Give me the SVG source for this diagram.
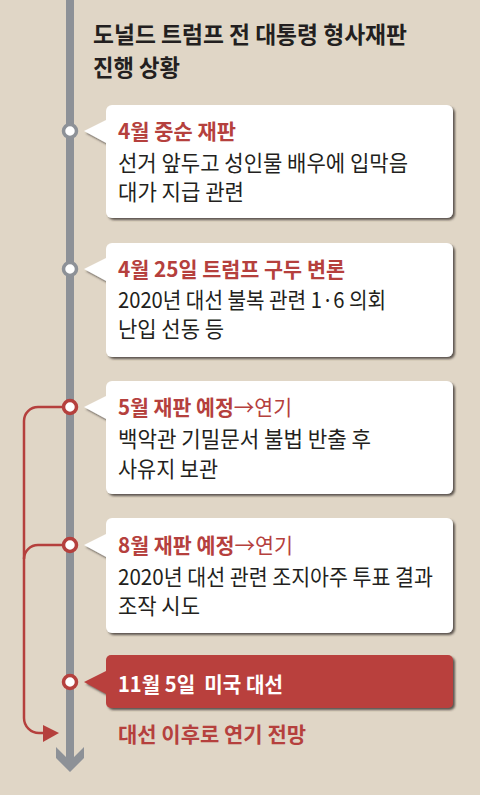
<svg xmlns="http://www.w3.org/2000/svg" width="480" height="795" viewBox="0 0 480 795">
<style>
.h{font-family:"Noto Sans CJK KR","Noto Sans",sans-serif;font-weight:700;font-size:23px;fill:#231f20}
.t{font-family:"Noto Sans CJK KR","Noto Sans",sans-serif;font-weight:700;font-size:21px;fill:#b5403d}
.t2{font-family:"Noto Sans CJK KR","Noto Sans",sans-serif;font-weight:400;font-size:21px;fill:#b5403d}
.b{font-family:"Noto Sans CJK KR","Noto Sans",sans-serif;font-weight:400;font-size:22px;fill:#231f20}
.w{font-family:"Noto Sans CJK KR","Noto Sans",sans-serif;font-weight:700;font-size:21px;fill:#ffffff}
.box{fill:#ffffff}
.rbox{fill:#b9403d}
.gc{fill:#ffffff;stroke:#8d9197;stroke-width:3.5}
.rc{fill:#ffffff;stroke:#b5403d;stroke-width:3.5}
.con{fill:none;stroke:#b5403d;stroke-width:2.5}
</style>
<defs>
<filter id="sh" x="-5%" y="-10%" width="115%" height="130%">
<feDropShadow dx="2" dy="2" stdDeviation="1.1" flood-color="#3a3530" flood-opacity="0.8"/>
</filter>
</defs>
<rect width="480" height="795" fill="#e0d6c6"/>
<g id="timeline">
<rect x="66" y="0" width="8" height="758" fill="#8d9197"/>
<polygon points="56,747 66,757 74,757 84,747 84,758 70,772 56,758" fill="#8d9197"/>
</g>
<g id="title">
<text class="h" x="93" y="43" textLength="314" lengthAdjust="spacingAndGlyphs">도널드 트럼프 전 대통령 형사재판</text>
<text class="h" x="93" y="76" textLength="87" lengthAdjust="spacingAndGlyphs">진행 상황</text>
</g>
<g id="connectors">
<path class="con" d="M62,407 H38 A14,14 0 0 0 24,421 V718 A15,15 0 0 0 39,733 H46"/>
<path class="con" d="M62,545 H38 A14,14 0 0 0 24,559"/>
<polygon points="43,725 59,733 43,742" fill="#b5403d"/>
</g>
<g id="node1">
<g filter="url(#sh)">
<polygon class="box" points="84,131 108,119 108,144"/>
<rect class="box" x="106" y="105" width="347" height="113" rx="6"/>
</g>
<circle class="gc" cx="70" cy="131" r="6.5"/>
<text class="t" x="118" y="139" textLength="118" lengthAdjust="spacingAndGlyphs">4월 중순 재판</text>
<text class="b" x="118" y="171" textLength="290" lengthAdjust="spacingAndGlyphs">선거 앞두고 성인물 배우에 입막음</text>
<text class="b" x="118" y="200" textLength="126" lengthAdjust="spacingAndGlyphs">대가 지급 관련</text>
</g>
<g id="node2">
<g filter="url(#sh)">
<polygon class="box" points="84,269 108,257 108,282"/>
<rect class="box" x="106" y="243" width="347" height="114" rx="6"/>
</g>
<circle class="gc" cx="70" cy="269" r="6.5"/>
<text class="t" x="118" y="277" textLength="227" lengthAdjust="spacingAndGlyphs">4월 25일 트럼프 구두 변론</text>
<text class="b" x="118" y="308" textLength="268" lengthAdjust="spacingAndGlyphs">2020년 대선 불복 관련 1·6 의회</text>
<text class="b" x="118" y="337" textLength="106" lengthAdjust="spacingAndGlyphs">난입 선동 등</text>
</g>
<g id="node3">
<g filter="url(#sh)">
<polygon class="box" points="84,407 108,395 108,420"/>
<rect class="box" x="106" y="381" width="347" height="113" rx="6"/>
</g>
<circle class="rc" cx="70" cy="407" r="6.5"/>
<text x="118" y="415" textLength="174" lengthAdjust="spacingAndGlyphs"><tspan class="t">5월 재판 예정</tspan><tspan class="t2">→연기</tspan></text>
<text class="b" x="118" y="447" textLength="253" lengthAdjust="spacingAndGlyphs">백악관 기밀문서 불법 반출 후</text>
<text class="b" x="118" y="477" textLength="100" lengthAdjust="spacingAndGlyphs">사유지 보관</text>
</g>
<g id="node4">
<g filter="url(#sh)">
<polygon class="box" points="84,545 108,533 108,558"/>
<rect class="box" x="106" y="518" width="347" height="115" rx="6"/>
</g>
<circle class="rc" cx="70" cy="545" r="6.5"/>
<text x="118" y="553" textLength="175" lengthAdjust="spacingAndGlyphs"><tspan class="t">8월 재판 예정</tspan><tspan class="t2">→연기</tspan></text>
<text class="b" x="118" y="585" textLength="315" lengthAdjust="spacingAndGlyphs">2020년 대선 관련 조지아주 투표 결과</text>
<text class="b" x="118" y="614" textLength="82" lengthAdjust="spacingAndGlyphs">조작 시도</text>
</g>
<g id="node5">
<g filter="url(#sh)">
<polygon class="rbox" points="84,682 108,670 108,695"/>
<rect class="rbox" x="106" y="655" width="347" height="53" rx="5"/>
</g>
<circle class="rc" cx="70" cy="682" r="6.5"/>
<text class="w" x="118" y="692" textLength="165" lengthAdjust="spacingAndGlyphs" xml:space="preserve">11월 5일  미국 대선</text>
</g>
<g id="note">
<text class="t" x="118" y="742" textLength="188" lengthAdjust="spacingAndGlyphs">대선 이후로 연기 전망</text>
</g>
</svg>
